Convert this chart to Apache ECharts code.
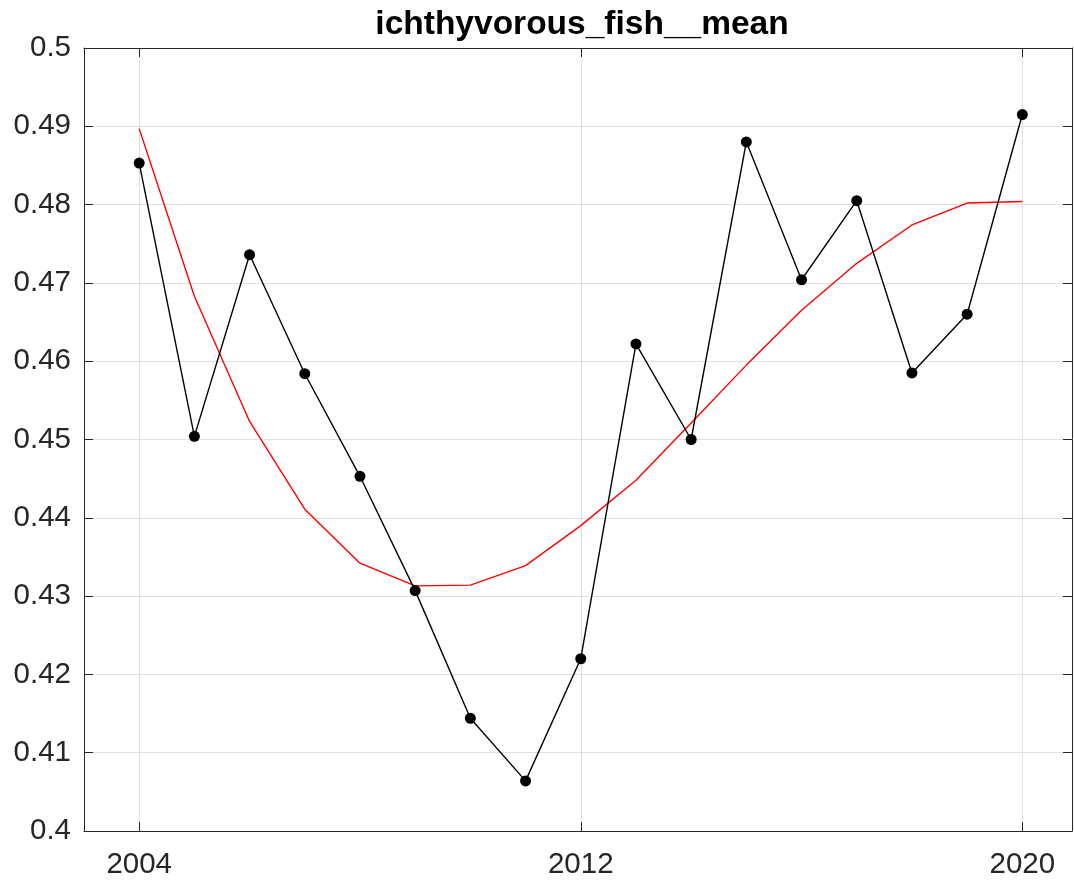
<!DOCTYPE html>
<html>
<head>
<meta charset="utf-8">
<script src="https://cdn.jsdelivr.net/npm/echarts@6/dist/echarts.min.js"></script>
<style>
html,body{margin:0;padding:0;background:#fff;}
#chart{width:1074px;height:886px;}
</style>
</head>
<body>
<div id="chart"></div>
<script>
const titleText = 'ichthyvorous_fish__mean';
const years = [2004,2005,2006,2007,2008,2009,2010,2011,2012,2013,2014,2015,2016,2017,2018,2019,2020];
const meanValues = [0.4853,0.4504,0.4736,0.4584,0.4453,0.4307,0.4144,0.4064,0.4220,0.4622,0.4500,0.4880,0.4704,0.4805,0.4585,0.4660,0.4915];
const trendValues = [0.4897,0.4683,0.4523,0.4411,0.4342,0.4313,0.4314,0.4339,0.4390,0.4448,0.4521,0.4595,0.4665,0.4725,0.4774,0.4802,0.4804];
const xTicks = [2004, 2012, 2020];

const FONT = '"Liberation Sans", Arial, Helvetica, sans-serif';
const AX = '#262626';
const GRID = '#e0e0e0';

const chart = echarts.init(document.getElementById('chart'), null, {renderer: 'canvas'});

function xAxisDef(pos, showLabels) {
  return {
    type: 'value', position: pos, min: 2003, max: 2020.9,
    axisLine: {show: true, onZero: false, lineStyle: {color: AX, width: 1}},
    axisTick: {show: true, inside: true, length: 9, customValues: xTicks, lineStyle: {color: AX}},
    axisLabel: {show: showLabels, customValues: xTicks, margin: 19, color: AX, fontSize: 29.5, fontFamily: FONT,
      formatter: v => String(v)},
    splitLine: {show: showLabels, lineStyle: {color: GRID, width: 1}}
  };
}
function yAxisDef(pos, showLabels) {
  return {
    type: 'value', position: pos, min: 0.4, max: 0.5, interval: 0.01,
    axisLine: {show: true, onZero: false, lineStyle: {color: AX, width: 1}},
    axisTick: {show: true, inside: true, length: 9, lineStyle: {color: AX}},
    axisLabel: {show: showLabels, margin: 13, color: AX, fontSize: 29.5, fontFamily: FONT,
      formatter: v => String(parseFloat(v.toFixed(2)))},
    splitLine: {show: showLabels, lineStyle: {color: GRID, width: 1}}
  };
}

chart.setOption({
  animation: false,
  backgroundColor: '#fff',
  title: {
    text: titleText, left: 577, textAlign: 'center', top: 3,
    textStyle: {fontFamily: FONT, fontWeight: 'bold', fontSize: 33.5, color: '#000'}
  },
  grid: {left: 84, right: 2, top: 48, bottom: 55, containLabel: false},
  xAxis: [xAxisDef('bottom', true), xAxisDef('top', false)],
  yAxis: [yAxisDef('left', true), yAxisDef('right', false)],
  series: [
    {
      type: 'line', name: 'trend',
      data: years.map((y, i) => [y, trendValues[i]]),
      showSymbol: false, symbol: 'none',
      lineStyle: {color: '#ff0000', width: 1.4},
      z: 2
    },
    {
      type: 'line', name: 'mean',
      data: years.map((y, i) => [y, meanValues[i]]),
      symbol: 'circle', symbolSize: 11,
      itemStyle: {color: '#000'},
      lineStyle: {color: '#000', width: 1.4},
      z: 3
    }
  ]
});
</script>
</body>
</html>
